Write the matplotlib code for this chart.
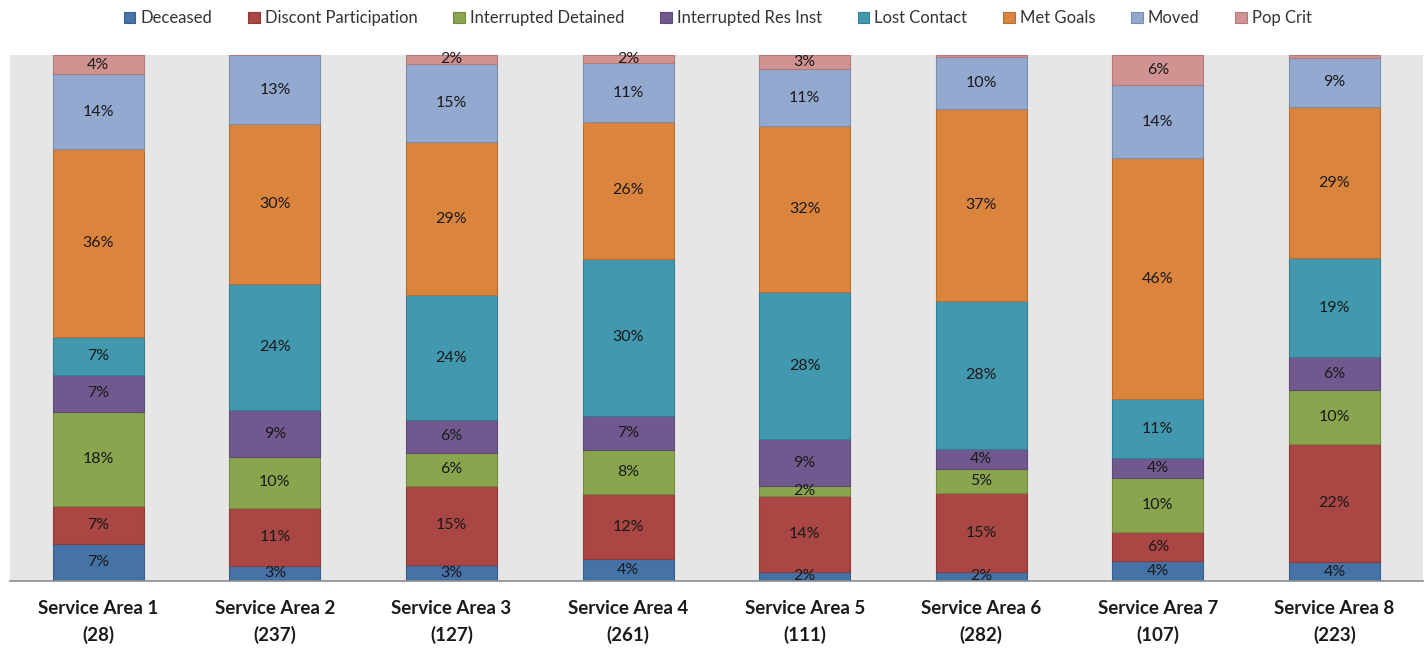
import matplotlib.pyplot as plt
import numpy as np

plt.rcParams['font.family'] = ['Lato', 'DejaVu Sans']

areas = ['Service Area 1', 'Service Area 2', 'Service Area 3', 'Service Area 4',
         'Service Area 5', 'Service Area 6', 'Service Area 7', 'Service Area 8']
totals = [28, 237, 127, 261, 111, 282, 107, 223]

outcomes = ['Deceased', 'Discont Participation', 'Interrupted Detained',
            'Interrupted Res Inst', 'Lost Contact', 'Met Goals', 'Moved', 'Pop Crit']

# discharge counts per outcome, one entry per service area
deceased = [2, 7, 4, 11, 2, 5, 4, 8]
discont = [2, 26, 19, 32, 16, 42, 6, 50]
int_detained = [5, 23, 8, 22, 2, 13, 11, 23]
int_res_inst = [2, 21, 8, 17, 10, 11, 4, 14]
lost_contact = [2, 57, 30, 78, 31, 79, 12, 42]
met_goals = [10, 72, 37, 68, 35, 103, 49, 64]
moved = [4, 31, 19, 29, 12, 28, 15, 21]
pop_crit = [1, 0, 2, 4, 3, 1, 6, 1]

colors = ['#4572A7', '#AA4643', '#89A54E', '#71588F',
          '#4198AF', '#DB843D', '#93A9CF', '#D19392']
edges = ['#3A5F8C', '#8E3A38', '#728A41', '#5E4A77',
         '#367F92', '#B76E33', '#7B8DAD', '#AE7B7A']


def main():
    series = [deceased, discont, int_detained, int_res_inst,
              lost_contact, met_goals, moved, pop_crit]
    n = np.array(totals, dtype=float)
    x = np.arange(len(areas))

    fig = plt.figure(figsize=(14.27, 6.5), dpi=100)
    ax = fig.add_axes([0.007, 0.106, 0.990, 0.809])
    ax.set_facecolor('#E6E6E6')

    bottom = np.zeros(len(areas))
    for name, counts, col, edge in zip(outcomes, series, colors, edges):
        share = np.array(counts) / n * 100
        ax.bar(x, share, 0.515, bottom=bottom, color=col, edgecolor=edge,
               linewidth=0.8, label=name, zorder=2)
        for i in range(len(x)):
            pct = int(round(share[i]))
            if pct >= 1:
                ax.text(x[i], bottom[i] + share[i] / 2, '%d%%' % pct,
                        ha='center', va='center', fontsize=11.5,
                        color='#1A1A1A', zorder=3)
        bottom += share

    ax.set_xlim(-0.5, 7.5)
    ax.set_ylim(0, 100)
    ax.set_yticks([])
    ax.set_xticks(x)
    ax.set_xticklabels(['%s\n(%d)' % (a, t) for a, t in zip(areas, totals)],
                       fontsize=13.5, fontweight='bold', color='#1A1A1A',
                       linespacing=1.6)
    ax.tick_params(axis='x', length=0, pad=13.5)
    for side in ['top', 'left', 'right']:
        ax.spines[side].set_visible(False)
    ax.spines['bottom'].set_color('#8C8C8C')
    ax.spines['bottom'].set_linewidth(1.2)

    fig.legend(loc='upper center', bbox_to_anchor=(0.503, 1.007), ncol=8,
               frameon=False, fontsize=12, handlelength=0.7, handleheight=0.7,
               handletextpad=0.3, columnspacing=2.15, labelcolor='#333333')

    fig.savefig('out.png', dpi=100)


if __name__ == "__main__":
    main()
